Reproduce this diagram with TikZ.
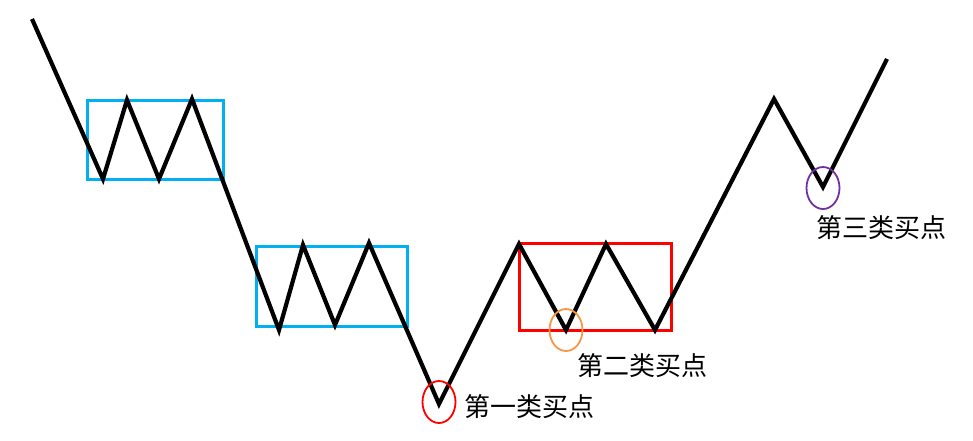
\documentclass[tikz,border=0pt]{standalone}
\usepackage{fontspec}
\newfontfamily\cjk{Noto Sans CJK SC}
\usetikzlibrary{positioning,shapes.geometric}

\definecolor{boxblue}{RGB}{0,176,240}
\definecolor{ringorange}{RGB}{247,150,70}
\definecolor{ringpurple}{RGB}{112,48,160}

\tikzset{
  trend/.style={line width=4.2pt, line join=miter, black},
  zsbox/.style={draw, line width=3pt, inner sep=0pt},
  ring/.style={draw, ellipse, line width=1.8pt, inner sep=0pt, minimum width=33pt, minimum height=42pt},
  buylabel/.style={inner sep=0pt, anchor=west, font=\cjk\fontsize{26pt}{30pt}\selectfont}
}

\begin{document}
\begin{tikzpicture}[x=1pt, y=-1pt]
\useasboundingbox (0,0) rectangle (973,440);
% turning points of the price line
\coordinate (p0) at (32,19);
\coordinate (p1) at (103,179);
\coordinate (p2) at (127,100);
\coordinate (p3) at (159,179);
\coordinate (p4) at (192,99);
\coordinate (p5) at (279,330);
\coordinate (p6) at (303,245);
\coordinate (p7) at (335,325);
\coordinate (p8) at (369,243);
\coordinate (p9) at (439,404);
\coordinate (p10) at (519,244);
\coordinate (p11) at (566,330);
\coordinate (p12) at (606,244);
\coordinate (p13) at (655,330);
\coordinate (p14) at (774,99);
\coordinate (p15) at (823,187);
\coordinate (p16) at (887,59);
% pivot boxes
\draw [zsbox, boxblue] (87,100) rectangle (223,179);
\draw [zsbox, boxblue] (256,246) rectangle (407,326);
\draw [zsbox, red] (519,243) rectangle (671,330);
\draw [trend] (p0) -- (p1) -- (p2) -- (p3) -- (p4) -- (p5) -- (p6) -- (p7) -- (p8)
  -- (p9) -- (p10) -- (p11) -- (p12) -- (p13) -- (p14) -- (p15) -- (p16);
% buy points
\node [ring, red] (ring1) at ([yshift=2pt]p9) {};
\node [ring, ringorange] (ring2) at (p11) {};
\node [ring, ringpurple] (ring3) at ([yshift=-1pt]p15) {};
\node [buylabel] (buy1) at (464,407) {第一类买点};
\node [buylabel] (buy2) at (577,366) {第二类买点};
\node [buylabel] (buy3) at (816,228) {第三类买点};
\end{tikzpicture}
\end{document}
